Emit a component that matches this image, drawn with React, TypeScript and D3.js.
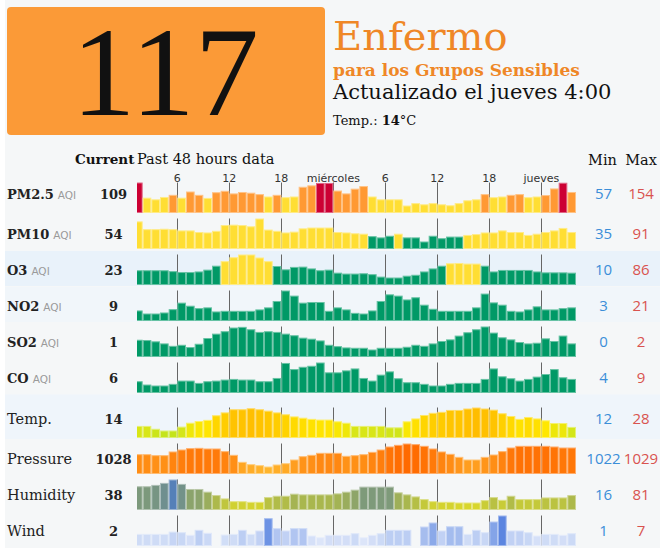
import React, { useEffect, useRef } from 'react';
import * as d3 from 'd3';

// hourly bars, hour 1 (Tuesday) .. hour 51 (Thursday 3:00-4:00)
const hours = d3.range(1, 52);
const tickHours = [6, 12, 18, 24, 30, 36, 42, 48];
const tickLabels = ['6', '12', '18', 'miércoles', '6', '12', '18', 'jueves'];

const pm25 = [154, 90, 83, 93, 102, 90, 116, 102, 89, 113, 119, 108, 114, 111, 105, 95, 102, 92, 95, 136, 142, 152, 152, 120, 108, 128, 139, 95, 83, 83, 83, 57, 67, 62, 67, 62, 58, 67, 79, 83, 105, 92, 95, 102, 105, 92, 95, 101, 129, 153, 114];
const pm10 = [84, 65, 65, 66, 65, 62, 62, 58, 57, 61, 75, 76, 75, 72, 91, 64, 61, 57, 59, 67, 69, 69, 69, 58, 57, 55, 54, 48, 45, 49, 54, 45, 45, 35, 49, 43, 47, 47, 51, 53, 57, 57, 62, 58, 58, 51, 54, 58, 62, 68, 58];
const o3 = [34, 34, 34, 34, 31, 28, 28, 30, 36, 49, 64, 77, 86, 86, 76, 64, 48, 37, 45, 46, 40, 34, 36, 26, 23, 23, 24, 21, 13, 10, 10, 16, 19, 30, 40, 49, 57, 58, 56, 56, 49, 30, 35, 35, 35, 35, 30, 27, 27, 27, 26];
const no2 = [5.4, 3, 3, 3.8, 6.4, 11.5, 9.1, 7.2, 7.8, 4.6, 5.1, 5.1, 5.1, 5.1, 6.2, 7.8, 12.8, 21, 17, 11.5, 12, 12, 5.1, 7.8, 6.2, 3.5, 3, 5.4, 12.8, 18, 17, 14, 15.7, 9.9, 6.7, 5.1, 5.1, 5.1, 5.1, 7.8, 18.6, 11.7, 9.9, 5.1, 4.6, 6.2, 8.6, 6.2, 6.2, 7.2, 7.8];
const so2 = [0.85, 0.82, 0.71, 0.53, 0.32, 0.41, 0.21, 0.5, 1.0, 1.38, 1.59, 1.91, 1.97, 1.76, 1.53, 1.59, 1.53, 1.38, 1.24, 1.03, 0.94, 0.79, 0.41, 0.29, 0.18, 0.15, 0.15, 0, 0.15, 0.15, 0.15, 0.24, 0.41, 0.32, 0.53, 0.74, 0.88, 1.21, 1.5, 1.76, 2, 1.47, 1.06, 0.88, 0.65, 0.53, 0.59, 0.97, 0.74, 1.21, 0.53];
const co = [4.93, 4.21, 4, 4, 4.36, 5.07, 5.07, 4.57, 4.93, 5.07, 5.29, 5.43, 5.29, 5.29, 4.93, 4.93, 5.64, 8.9, 7.57, 8.07, 8.29, 9, 6.86, 6.86, 7.29, 7.71, 5.64, 5.07, 6.36, 7.07, 5.57, 4.71, 4.71, 4.36, 4, 4, 4.36, 4.57, 4.57, 4.57, 5.43, 7.71, 6, 5.57, 5.07, 5.43, 5.93, 6.5, 7.57, 5.79, 5.43];
const temp = [15.2, 15.2, 13.2, 12, 12, 14.7, 17.4, 18.6, 19.4, 22.6, 24.6, 26.8, 26.8, 27.5, 26.8, 25.8, 24.6, 23.3, 21.8, 20.9, 20.1, 19.6, 19.6, 18.4, 17.4, 15.2, 15.2, 15.2, 15.2, 14.2, 14.2, 18.4, 20.4, 22.8, 24.3, 25, 26.3, 26.3, 27.3, 28, 27.3, 26.5, 24, 22.1, 20.1, 21.4, 20.4, 19.1, 17.2, 17.2, 14.5];
const pressure = [1025.75, 1025.75, 1025.45, 1025.45, 1026.57, 1027.17, 1027.58, 1027.68, 1027.48, 1027.48, 1026.67, 1025.55, 1023.42, 1022.71, 1022.41, 1022, 1022.61, 1023.01, 1024.13, 1025.14, 1025.55, 1026.16, 1026.16, 1026.16, 1025.25, 1025.45, 1025.75, 1026.46, 1027.17, 1028.09, 1028.59, 1029, 1028.8, 1028.29, 1027.48, 1026.57, 1025.86, 1024.94, 1024.13, 1024.13, 1024.94, 1025.65, 1026.67, 1027.78, 1028.29, 1028.29, 1028.29, 1028.29, 1028.09, 1027.78, 1027.78];
const humidity = [61.9, 61.9, 65.7, 71.4, 81, 68.6, 54.2, 54.2, 46.6, 37, 27.5, 19.8, 19.8, 17.9, 17.9, 31.3, 35.1, 35.1, 40.9, 38.9, 38.9, 38.9, 38.9, 41.8, 46.6, 52.3, 60.9, 60.9, 60.9, 60.9, 44.7, 38.9, 33.2, 25.6, 19.8, 17.9, 17.9, 16, 16, 16, 22.7, 31.3, 23.6, 35.1, 25.6, 25.6, 25.6, 30.3, 30.3, 30.3, 37];
const wind = [2.2, 2.2, 2.2, 2.2, 2.8, 2.65, 1.96, 3.26, 2.48, null, 2.04, 2.2, 3.26, 2.2, 3.09, 6.3, 3.7, 3.09, 3.7, 3.7, 1.78, 1.35, 1.96, 1.96, 1.96, 2.39, 1.35, 1.96, 2.39, 3.26, 3.26, 3.26, null, 4.13, 5.17, 3.09, 4.2, 4.2, 2.2, 3.26, 2.65, 5.43, 7, 3.09, 3.09, 2.65, 1.78, 2.2, 2.2, 1.96, 2.39];

const aqiNames = ['PM2.5', 'PM10', 'O3', 'NO2', 'SO2', 'CO'];
const aqiCurrent = [109, 54, 23, 9, 1, 6];
const aqiMin = [57, 35, 10, 3, 0, 4];
const aqiMax = [154, 91, 86, 21, 2, 9];
const aqiSeries = [pm25, pm10, o3, no2, so2, co];

const wxNames = ['Temp.', 'Pressure', 'Humidity', 'Wind'];
const wxCurrent = [14, 1028, 38, 2];
const wxMin = [12, 1022, 16, 1];
const wxMax = [28, 1029, 81, 7];
const wxSeries = [temp, pressure, humidity, wind];

const SERIF = '"DejaVu Serif", serif';
const SANS = '"DejaVu Sans", sans-serif';

const aqiColor = (v: number) =>
  v <= 50 ? '#009966' : v <= 100 ? '#ffde33' : v <= 150 ? '#ff9933' : '#cc0033';

const tempColor = d3.scaleLinear<string>().domain([12, 15, 19, 28]).range(['#c4e41c', '#d6e617', '#ffe700', '#ffbd00']);
const pressColor = d3.scaleLinear<string>().domain([1022, 1029]).range(['#ffb52c', '#ff6a00']);
const humColor = d3.scaleLinear<string>().domain([16, 38, 60, 72, 81]).range(['#d8d62c', '#abb84c', '#7f9b78', '#6e8e90', '#5580b8']);
const windColor = d3.scaleLinear<string>().domain([1, 3, 7]).range(['#e1e9fa', '#c3d3f4', '#5b85e0']);
const wxColors = [tempColor, pressColor, humColor, windColor];

const App = () => {
  const svgRef = useRef<SVGSVGElement>(null);

  useEffect(() => {
    const svg = d3.select(svgRef.current);
    svg.selectAll('*').remove();

    const x = d3.scaleLinear().domain([6, 48]).range([177.33, 541.33]);
    const chartH = 30;

    svg.append('rect').attr('x', 5).attr('y', 0).attr('width', 655).attr('height', 548).attr('fill', '#f5f7f8');

    svg.append('defs').append('clipPath').attr('id', 'plotclip')
      .append('rect').attr('x', 137).attr('y', 0).attr('width', x(52) - 137).attr('height', 554);

    // header
    svg.append('rect').attr('x', 7).attr('y', 7).attr('width', 318).attr('height', 128).attr('rx', 4).attr('fill', '#fb9a37');
    svg.append('text').attr('x', 165).attr('y', 115).attr('text-anchor', 'middle')
      .style('font-family', '"Liberation Serif", serif').style('font-size', '128px').attr('fill', '#111').text('117');
    svg.append('text').attr('x', 333).attr('y', 50).style('font-family', SERIF).style('font-size', '40px')
      .attr('fill', '#ef8727').text('Enfermo');
    svg.append('text').attr('x', 333).attr('y', 75.5).style('font-family', SERIF).style('font-size', '17px')
      .style('font-weight', 'bold').attr('fill', '#ef8727').text('para los Grupos Sensibles');
    svg.append('text').attr('x', 333).attr('y', 99).style('font-family', SERIF).style('font-size', '21px')
      .attr('fill', '#111').text('Actualizado el jueves 4:00');
    const tt = svg.append('text').attr('x', 333).attr('y', 125).style('font-family', SERIF).style('font-size', '13px').attr('fill', '#111');
    tt.append('tspan').text('Temp.: ');
    tt.append('tspan').style('font-weight', 'bold').text('14');
    tt.append('tspan').text('°C');

    // column headers
    svg.append('text').attr('x', 75).attr('y', 164).style('font-family', SERIF).style('font-size', '13.5px')
      .style('font-weight', 'bold').attr('fill', '#111').text('Current');
    svg.append('text').attr('x', 137).attr('y', 164).style('font-family', SERIF).style('font-size', '14.5px')
      .attr('fill', '#111').text('Past 48 hours data');
    svg.append('text').attr('x', 602.5).attr('y', 165).attr('text-anchor', 'middle').style('font-family', SERIF)
      .style('font-size', '14.5px').attr('fill', '#111').text('Min');
    svg.append('text').attr('x', 641).attr('y', 165).attr('text-anchor', 'middle').style('font-family', SERIF)
      .style('font-size', '14.5px').attr('fill', '#111').text('Max');

    const drawGroup = (
      names: string[], current: number[], mins: number[], maxs: number[],
      series: (number | null)[][], colorOf: (i: number, v: number) => string,
      firstBottom: number, isAqi: boolean, bands: (string | null)[]
    ) => {
      // hour labels
      svg.append('g').selectAll('text').data(tickHours).join('text')
        .attr('x', (d) => x(d)).attr('y', firstBottom - chartH - 1).attr('text-anchor', 'middle')
        .style('font-family', SANS).style('font-size', '11px').attr('fill', '#333')
        .text((d, i) => tickLabels[i]);

      names.forEach((name, i) => {
        const bottom = firstBottom + i * 36;
        const base = bottom - (i === 0 ? 13.5 : 10);
        const g = svg.append('g');

        if (bands[i]) {
          const top = i === 0 ? bottom - chartH - 13 : bottom - 33.5;
          g.append('rect').attr('x', 5).attr('y', top).attr('width', 655).attr('height', bottom + 1.5 - top)
            .attr('fill', bands[i] as string);
        }

        const label = g.append('text').attr('x', 7).attr('y', base).style('font-family', SERIF)
          .style('font-size', isAqi ? '13px' : '14.5px').attr('fill', '#222');
        label.append('tspan').style('font-weight', isAqi ? 'bold' : 'normal').text(name);
        if (isAqi) {
          label.append('tspan').attr('dx', 4).style('font-family', SANS).style('font-size', '10.5px')
            .attr('fill', '#9a9a9a').text('AQI');
        }
        g.append('text').attr('x', 113.5).attr('y', base).attr('text-anchor', 'middle').style('font-family', SERIF)
          .style('font-size', '13px').style('font-weight', 'bold').attr('fill', '#222').text(current[i]);

        g.append('text').attr('x', 603.5).attr('y', base).attr('text-anchor', 'middle')
          .style('font-family', '"Open Sans", sans-serif').style('font-size', '15px').attr('fill', '#3b8ed8').text(mins[i]);
        g.append('text').attr('x', 641).attr('y', base).attr('text-anchor', 'middle')
          .style('font-family', '"Open Sans", sans-serif').style('font-size', '15px').attr('fill', '#d9534f').text(maxs[i]);

        g.append('g').selectAll('line').data(tickHours).join('line')
          .attr('x1', (d) => Math.round(x(d)) + 0.5).attr('x2', (d) => Math.round(x(d)) + 0.5)
          .attr('y1', bottom - chartH).attr('y2', bottom).attr('stroke', '#666').attr('stroke-width', 1);

        const y = d3.scaleLinear().domain([mins[i], maxs[i]]).range([7, chartH]);
        const pts = hours.map((h, k) => ({ h, v: series[i][k] })).filter((d) => d.v != null) as { h: number; v: number }[];
        g.append('g').attr('clip-path', 'url(#plotclip)').selectAll('rect').data(pts).join('rect')
          .attr('x', (d) => x(d.h) + 0.5)
          .attr('width', (d) => x(d.h + 1) - x(d.h) - 1)
          .attr('y', (d) => bottom - y(d.v) + 0.5)
          .attr('height', (d) => y(d.v) - 0.5)
          .attr('fill', (d) => colorOf(i, d.v))
          .attr('stroke', (d) => d3.interpolateRgb(colorOf(i, d.v), '#ffffff')(0.4))
          .attr('stroke-width', 1);
      });
    };

    drawGroup(aqiNames, aqiCurrent, aqiMin, aqiMax, aqiSeries, (i, v) => aqiColor(v), 212.5, true,
      [null, null, '#e9f2fa', '#f1f6fa', null, null]);
    drawGroup(wxNames, wxCurrent, wxMin, wxMax, wxSeries, (i, v) => wxColors[i](v), 437.5, false,
      ['#eff5fb', null, null, null]);
  }, []);

  return (
    <svg ref={svgRef} width={660} height={554} style={{ position: 'absolute', left: 0, top: 0, display: 'block' }} />
  );
};

export default App;
